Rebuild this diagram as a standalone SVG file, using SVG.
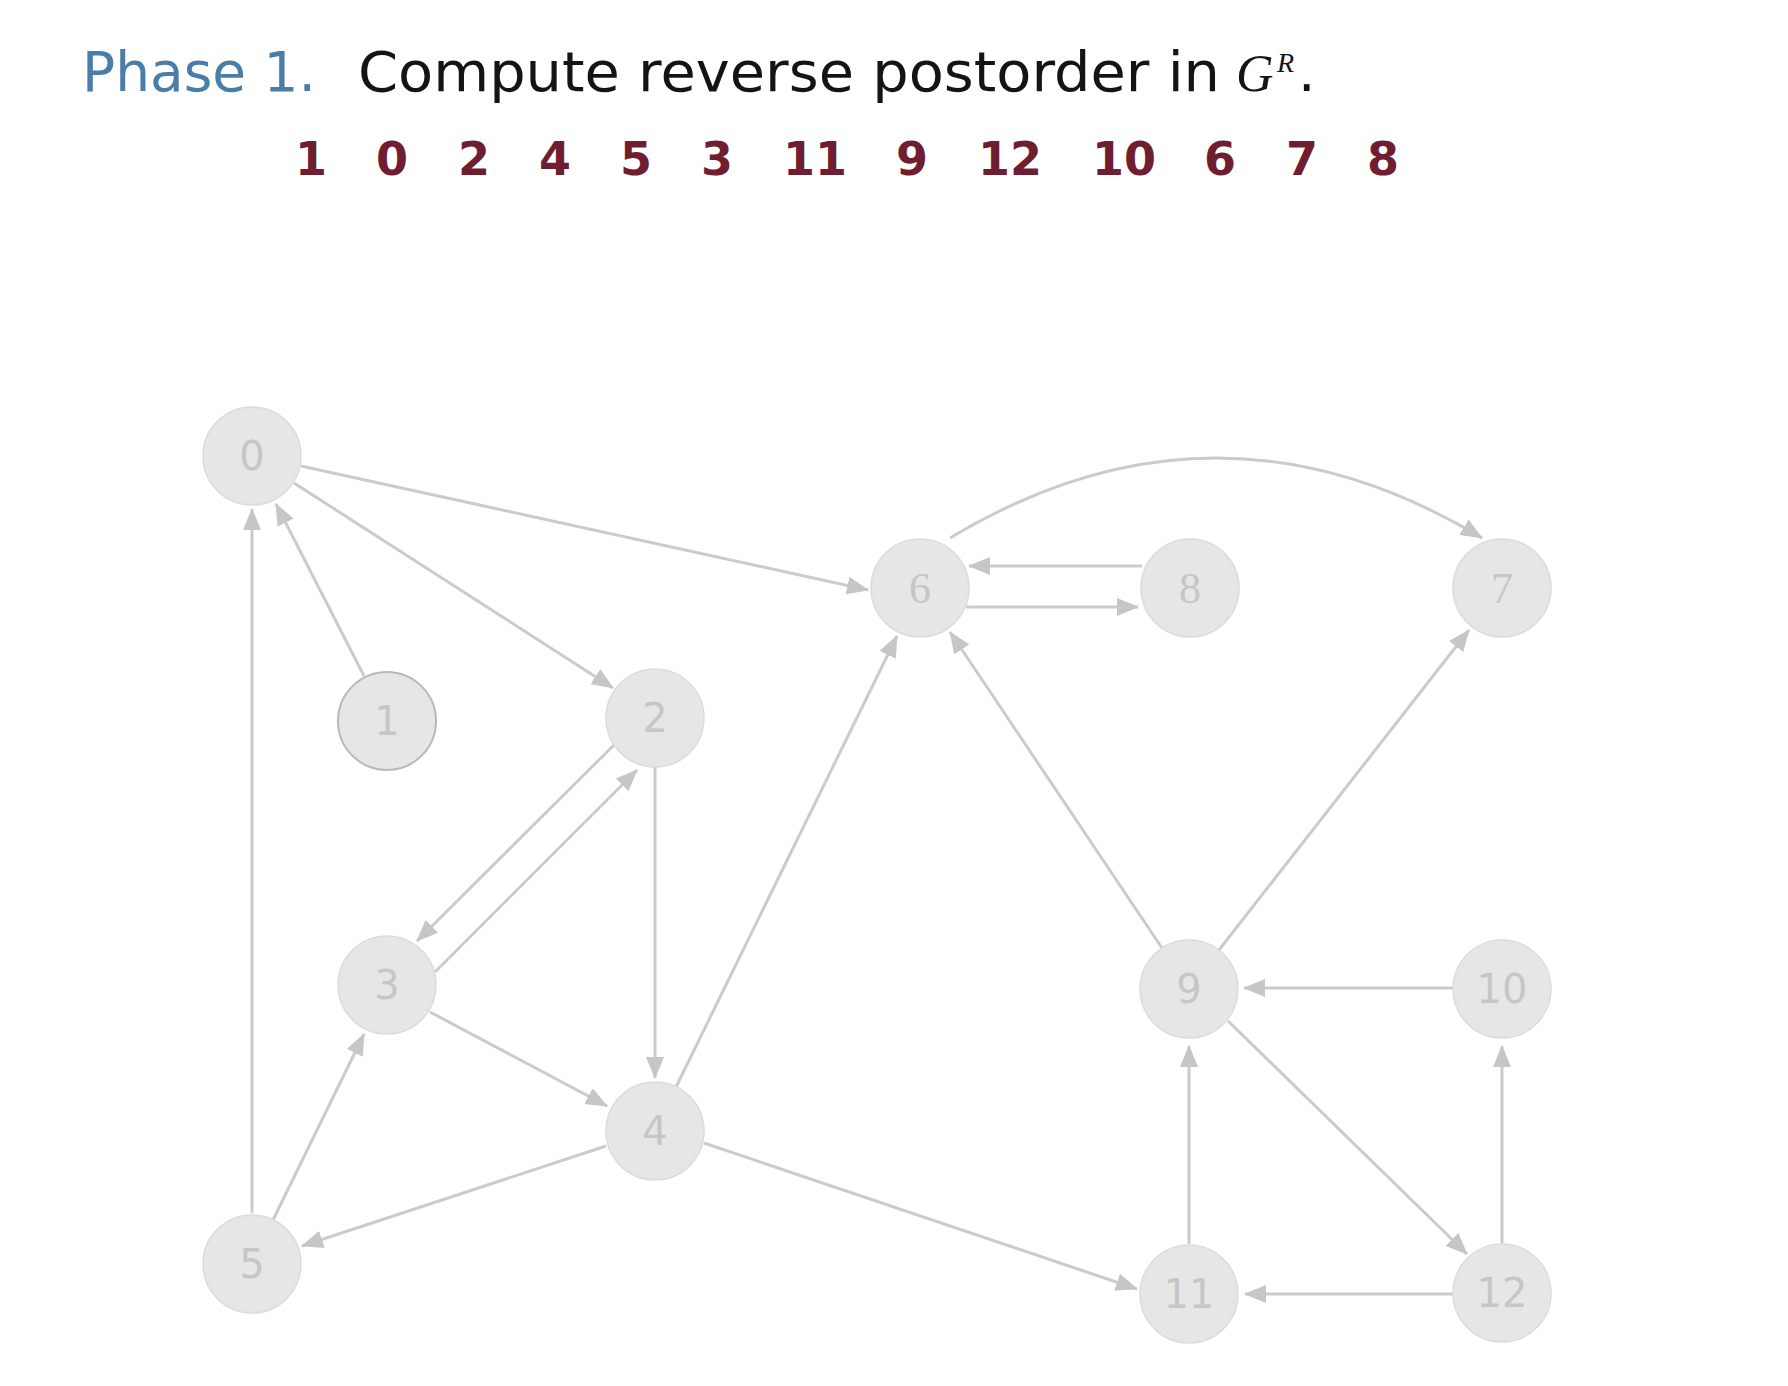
<svg xmlns="http://www.w3.org/2000/svg" width="1788" height="1386" viewBox="0 0 1788 1386">
<defs>
<style>
.title{font-family:"DejaVu Sans","Open Sans",sans-serif;font-size:55px}
.phase{fill:#4a7ea8}
.main{fill:#141414}
.seq{font-family:"DejaVu Sans","Open Sans",sans-serif;font-size:46px;font-weight:bold;fill:#6e1e30;text-anchor:middle}
.node circle{fill:#e6e6e6;stroke:#dcdcdc;stroke-width:1.5}
.node text{font-family:"DejaVu Sans","Open Sans",sans-serif;font-size:40px;fill:#c6c6c6;text-anchor:middle}
.node text.serif{font-family:"Liberation Serif","DejaVu Serif",serif;font-size:44px}
#n1 circle{stroke:#b9b9b9;stroke-width:2}
.edges path{fill:none;stroke:#cbcbcb;stroke-width:3;marker-end:url(#arr)}
</style>
<marker id="arr" viewBox="0 0 22 18" refX="21" refY="9" markerWidth="22" markerHeight="18" markerUnits="userSpaceOnUse" orient="auto">
<path d="M0,0 L22,9 L0,18 Z" fill="#c6c6c6"/>
</marker>
</defs>
<rect width="1788" height="1386" fill="#ffffff"/>
<g id="title">
<text class="title phase" x="82" y="91" textLength="234" lengthAdjust="spacingAndGlyphs">Phase 1.</text>
<text class="title main" x="358" y="91" textLength="862" lengthAdjust="spacingAndGlyphs">Compute reverse postorder in</text>
<text x="1236" y="91" font-family="Liberation Serif, serif" font-style="italic" font-size="52" fill="#141414">G</text>
<text x="1277" y="72" font-family="Liberation Serif, serif" font-style="italic" font-size="28" fill="#141414">R</text>
<text class="title main" x="1298" y="91">.</text>
</g>
<g id="sequence">
<text class="seq" x="311" y="175">1</text>
<text class="seq" x="392" y="175">0</text>
<text class="seq" x="474" y="175">2</text>
<text class="seq" x="555" y="175">4</text>
<text class="seq" x="636" y="175">5</text>
<text class="seq" x="717" y="175">3</text>
<text class="seq" x="815" y="175">11</text>
<text class="seq" x="912" y="175">9</text>
<text class="seq" x="1010" y="175">12</text>
<text class="seq" x="1124" y="175">10</text>
<text class="seq" x="1220" y="175">6</text>
<text class="seq" x="1302" y="175">7</text>
<text class="seq" x="1383" y="175">8</text>
</g>
<g id="connectors" class="edges">
<path d="M301,466 L868,590"/>
<path d="M294,483 L613,688"/>
<path d="M364,676 L276,504"/>
<path d="M252,1213 L252,509"/>
<path d="M614,745 L417,941"/>
<path d="M435,972 L637,770"/>
<path d="M655,767 L655,1078"/>
<path d="M430,1012 L607,1106"/>
<path d="M273,1220 L364,1034"/>
<path d="M606,1146 L302,1246"/>
<path d="M676,1087 L897,636"/>
<path d="M704,1143 L1137,1289"/>
<path d="M966,607 L1138,607"/>
<path d="M1142,566 L969,566"/>
<path d="M950,538 Q1216,378 1482,538"/>
<path d="M1162,948 L950,632"/>
<path d="M1219,950 L1469,630"/>
<path d="M1453,988 L1244,988"/>
<path d="M1228,1021 L1467,1254"/>
<path d="M1189,1244 L1189,1046"/>
<path d="M1453,1294 L1245,1294"/>
<path d="M1502,1243 L1502,1046"/>
</g>
<g id="n0" class="node"><circle cx="252" cy="456" r="49"/><text x="252" y="470">0</text></g>
<g id="n1" class="node"><circle cx="387" cy="721" r="49"/><text x="387" y="735">1</text></g>
<g id="n2" class="node"><circle cx="655" cy="718" r="49"/><text x="655" y="732">2</text></g>
<g id="n3" class="node"><circle cx="387" cy="985" r="49"/><text x="387" y="999">3</text></g>
<g id="n4" class="node"><circle cx="655" cy="1131" r="49"/><text x="655" y="1145">4</text></g>
<g id="n5" class="node"><circle cx="252" cy="1264" r="49"/><text x="252" y="1278">5</text></g>
<g id="n6" class="node"><circle cx="920" cy="588" r="49"/><text class="serif" x="920" y="603">6</text></g>
<g id="n7" class="node"><circle cx="1502" cy="588" r="49"/><text class="serif" x="1502" y="603">7</text></g>
<g id="n8" class="node"><circle cx="1190" cy="588" r="49"/><text class="serif" x="1190" y="603">8</text></g>
<g id="n9" class="node"><circle cx="1189" cy="989" r="49"/><text x="1189" y="1003">9</text></g>
<g id="n10" class="node"><circle cx="1502" cy="989" r="49"/><text x="1502" y="1003">10</text></g>
<g id="n11" class="node"><circle cx="1189" cy="1294" r="49"/><text x="1189" y="1308">11</text></g>
<g id="n12" class="node"><circle cx="1502" cy="1293" r="49"/><text x="1502" y="1307">12</text></g>
</svg>
